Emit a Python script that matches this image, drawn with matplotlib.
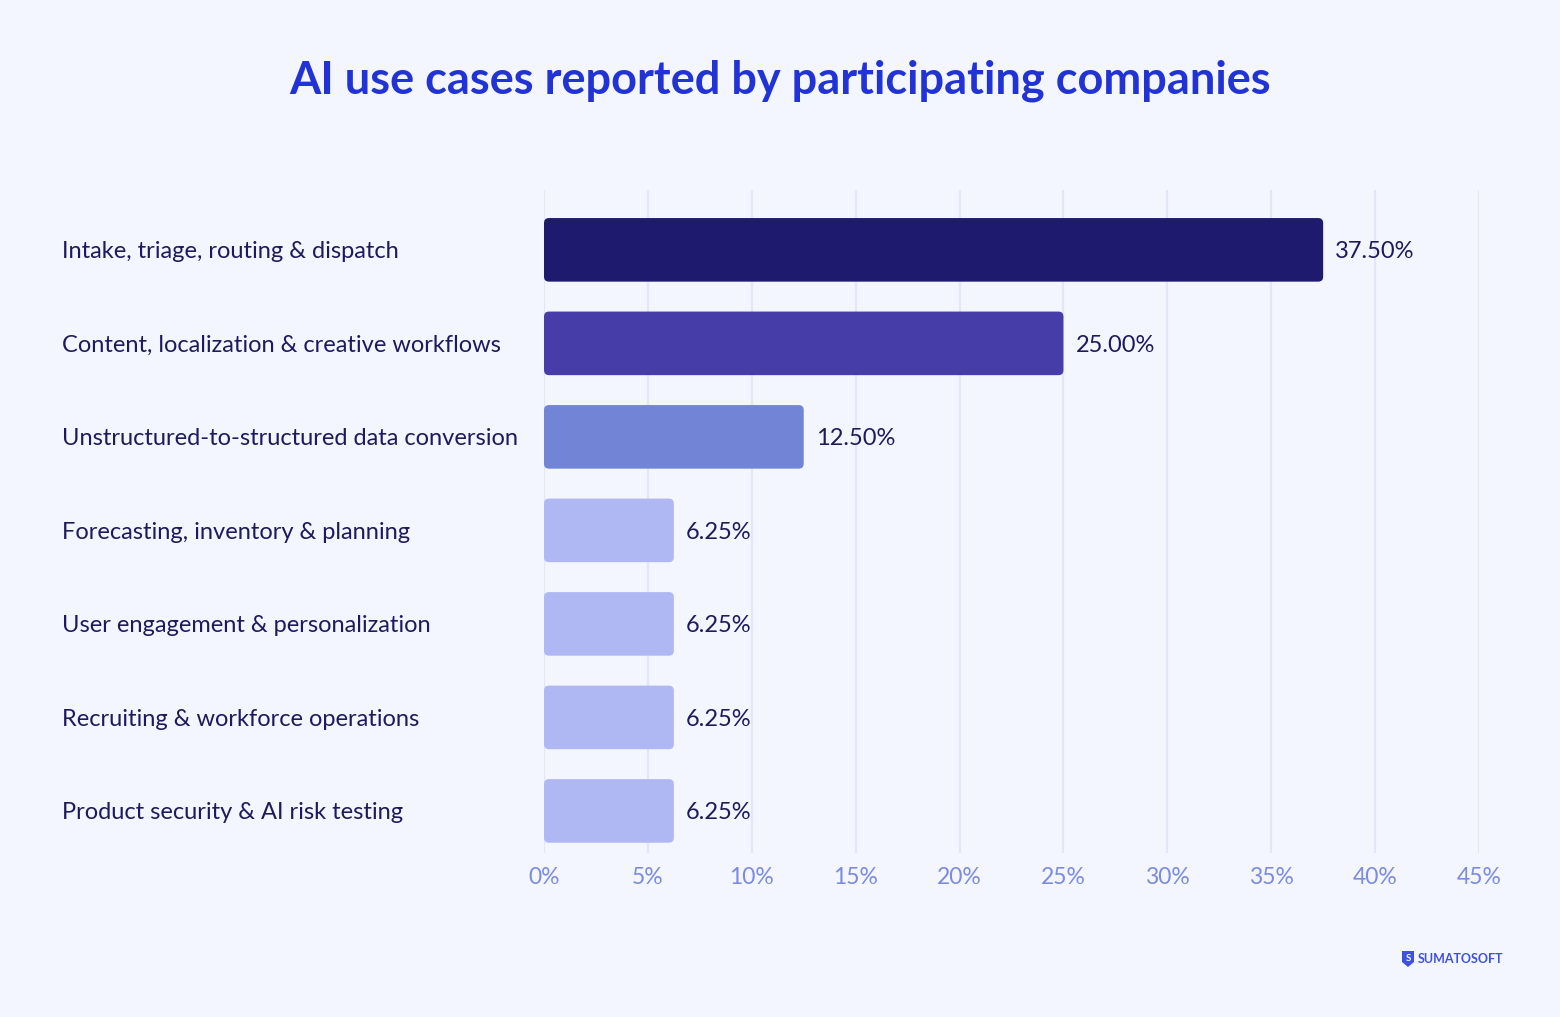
import matplotlib
matplotlib.use("Agg")
import matplotlib.pyplot as plt
import matplotlib.transforms as mtransforms
from matplotlib.patches import FancyBboxPatch, Polygon

categories = [
    "Intake, triage, routing & dispatch",
    "Content, localization & creative workflows",
    "Unstructured-to-structured data conversion",
    "Forecasting, inventory & planning",
    "User engagement & personalization",
    "Recruiting & workforce operations",
    "Product security & AI risk testing",
]
values = [37.50, 25.00, 12.50, 6.25, 6.25, 6.25, 6.25]
value_labels = ["37.50%", "25.00%", "12.50%", "6.25%", "6.25%", "6.25%", "6.25%"]
bar_colors = ["#1e1a6e", "#463da8", "#7184d6", "#b0b8f4", "#b0b8f4", "#b0b8f4", "#b0b8f4"]
xticks = [0, 5, 10, 15, 20, 25, 30, 35, 40, 45]
xtick_labels = [f"{t}%" for t in xticks]

BG = "#f3f6fe"
FONT = "Lato"

fig = plt.figure(figsize=(15.6, 10.17), dpi=100, facecolor=BG)
W, H = 1560, 1017
ax_left, ax_right = 544 / W, 1479 / W
ax_top, ax_bottom = 1 - 190 / H, 1 - 853 / H
ax = fig.add_axes([ax_left, ax_bottom, ax_right - ax_left, ax_top - ax_bottom])
ax.set_facecolor(BG)
ylo, yhi = -0.64, 6.45
ax.set_xlim(0, 45)
ax.set_ylim(yhi, ylo)

for t in xticks:
    ax.axvline(t, color="#e2e6fa", lw=1.6, zorder=0)

bh = 0.68
px_per_x = (1479 - 544) / 45
px_per_y = (853 - 190) / (yhi - ylo)
aspect = px_per_x / px_per_y
r = 5 / px_per_x
dy = 2 / px_per_y  # small downward nudge of labels
for i, (v, c) in enumerate(zip(values, bar_colors)):
    p = FancyBboxPatch((0, i - bh / 2), v, bh,
                       boxstyle=f"round,pad=0,rounding_size={r}",
                       mutation_aspect=aspect, fc=c, ec="none", zorder=2)
    ax.add_patch(p)
    ax.text(v + 12 / px_per_x, i + dy, value_labels[i], va="center", ha="left",
            fontsize=17, color="#1e1a5e", family=FONT)

ax.set_yticks(range(len(categories)))
ax.set_yticklabels([])
trans = mtransforms.blended_transform_factory(fig.transFigure, ax.transData)
for i, cat in enumerate(categories):
    ax.text(62 / W, i + dy, cat, transform=trans, va="center", ha="left",
            fontsize=17, color="#1e1a5e", family=FONT, clip_on=False)

ax.set_xticks(xticks)
ax.set_xticklabels(xtick_labels, fontsize=16.5, color="#7b8be0", family=FONT)
ax.tick_params(axis="x", length=0, pad=10)
ax.tick_params(axis="y", length=0)
for s in ax.spines.values():
    s.set_visible(False)

fig.text(0.5, 1 - 81 / H, "AI use cases reported by participating companies",
         ha="center", va="center", fontsize=32.5, fontweight="bold",
         color="#2233d6", family=FONT)

# logo
fig.text(1418 / W, 1 - 959 / H, "SUMATOSOFT", ha="left", va="center",
         fontsize=9, fontweight="bold", color="#3f4fe0", family=FONT)
shield = Polygon([(1402 / W, 1 - 951 / H), (1414 / W, 1 - 951 / H), (1414 / W, 1 - 962 / H),
                  (1408 / W, 1 - 967 / H), (1402 / W, 1 - 962 / H)],
                 closed=True, transform=fig.transFigure, fc="#3f4fe0", ec="none")
fig.patches.append(shield)
fig.text(1408 / W, 1 - 958.5 / H, "S", ha="center", va="center", fontsize=7,
         fontweight="bold", color=BG, family=FONT)

fig.savefig("out.png", dpi=100, facecolor=BG)
